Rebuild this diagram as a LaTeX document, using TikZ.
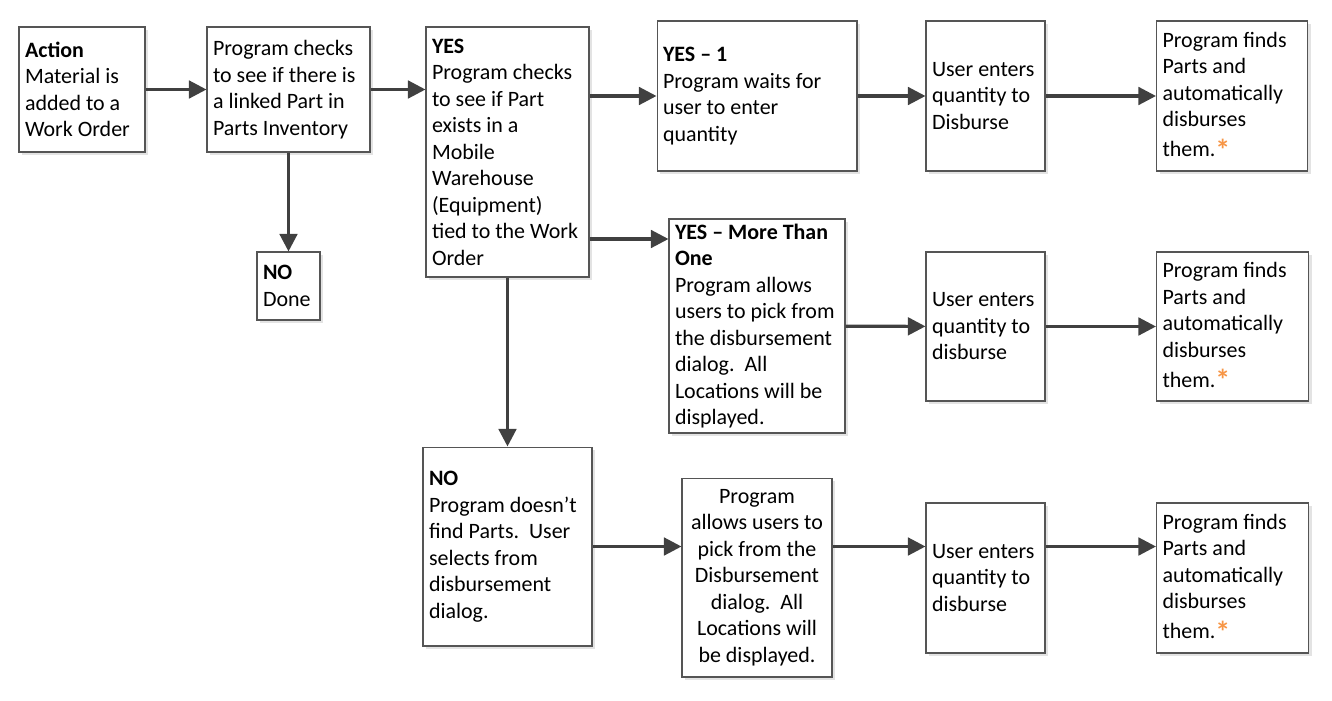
\documentclass[tikz,border=0pt]{standalone}
\usepackage{fontspec}
\setmainfont{Carlito}
\usepackage{tikz}
\usetikzlibrary{arrows.meta, shadows}
\definecolor{linegray}{HTML}{404040}
\definecolor{boxgray}{HTML}{555555}
\definecolor{starorange}{HTML}{F79646}
\tikzset{stepbox/.style={rectangle, draw=boxgray, line width=0.6pt, fill=white,
    inner xsep=0.12cm, inner ysep=1pt, align=flush left,
    font=\fontsize{12.5}{15.1}\selectfont,
    drop shadow={shadow xshift=0.06cm, shadow yshift=-0.06cm, opacity=0.22}}}
\tikzset{flow/.style={draw=linegray, line width=1.8pt,
    -{Triangle[length=10pt, width=10pt]}}}
\newcommand{\orangestar}{\raisebox{-2pt}{\fontsize{17}{17}\selectfont\bfseries\color{starorange}*}}

\begin{document}
\begin{tikzpicture}[x=0.02cm, y=-0.02cm]
    \useasboundingbox (0,0) rectangle (1332,700);

    % first column
    \node[stepbox, text width=2.28cm, minimum height=2.5cm] (act) at (82,89.5)
      {\textbf{Action}\\Material is\\added to a\\Work Order};
    \node[stepbox, text width=3.02cm, minimum height=2.5cm] (chk) at (288.5,89.5)
      {Program checks\\to see if there is\\a linked Part in\\Parts Inventory};
    \node[stepbox, text width=1.02cm, minimum height=1.36cm] (done) at (288.5,286)
      {\textbf{NO}\\Done};
    \node[stepbox, text width=3.02cm, minimum height=5.0cm] (yes) at (507.5,152)
      {\textbf{YES}\\Program checks\\to see if Part\\exists in a\\Mobile\\Warehouse\\(Equipment)\\tied to the Work\\Order};
    \node[stepbox, text width=3.14cm, minimum height=3.98cm] (no) at (507.5,546.5)
      {\textbf{NO}\\Program doesn't\\find Parts.\ \ User\\selects from\\disbursement\\dialog.};

    % top row
    \node[stepbox, text width=3.76cm, minimum height=3.0cm] (yone) at (757,96)
      {\textbf{YES -- 1}\\Program waits for\\user to enter\\quantity};
    \node[stepbox, text width=2.14cm, minimum height=3.0cm] (usrone) at (985.5,96)
      {User enters\\quantity to\\Disburse};
    \node[stepbox, text width=2.78cm, minimum height=3.0cm] (fndone) at (1232,96)
      {Program finds\\Parts and\\automatically\\disburses\\[2pt]them.\orangestar};

    % middle row
    \node[stepbox, text width=3.28cm, minimum height=4.28cm] (ymore) at (757,326)
      {\textbf{YES -- More Than}\\\textbf{One}\\Program allows\\users to pick from\\the disbursement\\dialog.\ \ All\\Locations will be\\displayed.};
    \node[stepbox, text width=2.14cm, minimum height=2.98cm] (usrtwo) at (985.5,326.5)
      {User enters\\quantity to\\disburse};
    \node[stepbox, text width=2.8cm, minimum height=2.98cm] (fndtwo) at (1232.5,326.5)
      {Program finds\\Parts and\\automatically\\disburses\\[2pt]them.\orangestar};

    % bottom row
    \node[stepbox, align=flush center, text width=2.76cm, minimum height=3.98cm] (allow) at (757,577.5)
      {Program\\allows users to\\pick from the\\Disbursement\\dialog.\ \ All\\Locations will\\be displayed.};
    \node[stepbox, text width=2.14cm, minimum height=3.0cm] (usrthree) at (985.5,578)
      {User enters\\quantity to\\disburse};
    \node[stepbox, text width=2.8cm, minimum height=3.0cm] (fndthree) at (1232.5,578)
      {Program finds\\Parts and\\automatically\\disburses\\[2pt]them.\orangestar};

    \draw[flow] (act) -- (chk);
    \draw[flow] (chk) -- (yes.west |- chk);
    \draw[flow] (chk) -- (done);
    \draw[flow] (yes.east |- yone) -- (yone);
    \draw[flow] (yes.east |- 0,239) -- (ymore.west |- 0,239);
    \draw[flow] (yes) -- (no);

    \draw[flow] (yone) -- (usrone);
    \draw[flow] (usrone) -- (fndone);
    \draw[flow] (ymore) -- (usrtwo);
    \draw[flow] (usrtwo) -- (fndtwo);
    \draw[flow] (no) -- (allow.west |- no);
    \draw[flow] (allow.east |- no) -- (usrthree.west |- no);
    \draw[flow] (usrthree.east |- no) -- (fndthree.west |- no);
\end{tikzpicture}
\end{document}
